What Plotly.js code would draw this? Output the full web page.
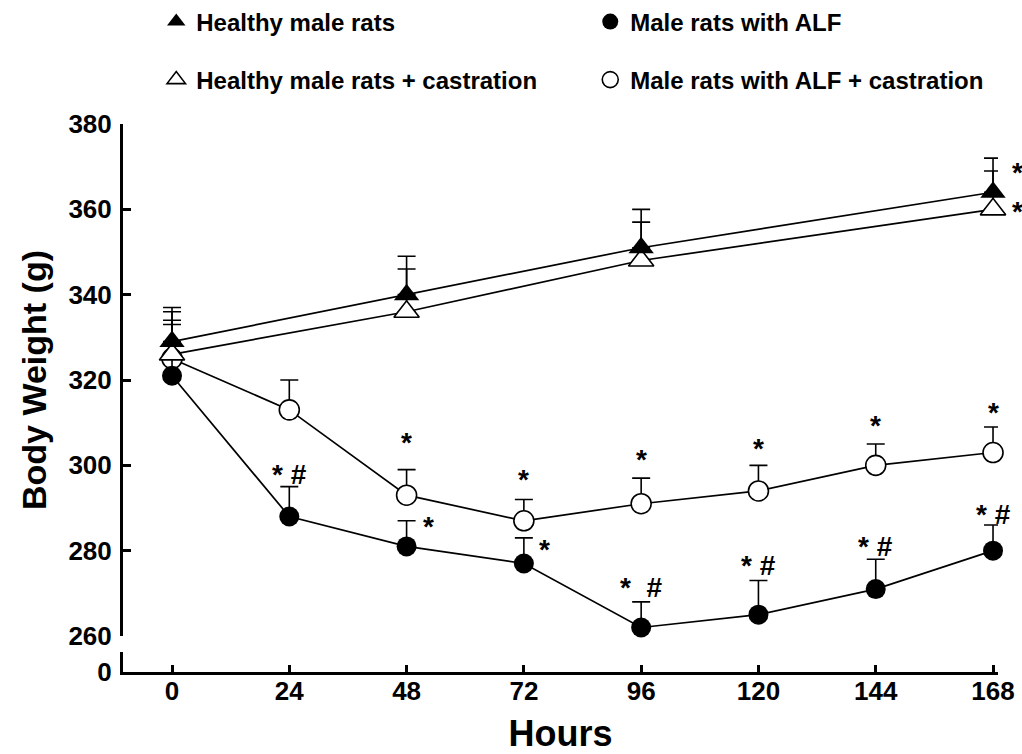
<!DOCTYPE html>
<html><head><meta charset="utf-8">
<script src="https://cdn.plot.ly/plotly-3.0.1.min.js"></script>
<style>html,body{margin:0;padding:0;background:#fff}#chart{width:1022px;height:754px}</style>
</head><body><div id="chart"></div>
<script>
// ---- data ----
const hoursAll = [0, 24, 48, 72, 96, 120, 144, 168];
const hoursHealthy = [0, 48, 96, 168];
const healthy = [329, 340, 351, 364];
const healthyErr = [8, 9, 9, 8];
const healthyCast = [326, 336, 348, 360];
const healthyCastErr = [10, 10, 9, 9];
const alf = [321, 288, 281, 277, 262, 265, 271, 280];
const alfErr = [12, 7, 6, 6, 6, 8, 7, 6];
const alfCast = [325, 313, 293, 287, 291, 294, 300, 303];
const alfCastErr = [9, 7, 6, 5, 6, 6, 5, 6];
const seriesNames = ['Healthy male rats', 'Healthy male rats + castration', 'Male rats with ALF', 'Male rats with ALF + castration'];
const xTicks = [0, 24, 48, 72, 96, 120, 144, 168];
const yTicks = [260, 280, 300, 320, 340, 360, 380];
// significance marks (hour, value, text, pixel offset to the right)
const markHours = [48, 72, 96, 120, 144, 168, 24, 48, 72, 96, 120, 144, 168, 168, 168];
const markY = [306.4, 297.7, 302.2, 304.8, 310.2, 313.4, 298.7, 286.7, 281.1, 272.2, 277.4, 282.0, 289.3, 369.5, 360.5];
const markText = ['*', '*', '*', '*', '*', '*', '* #', '*', '*', '*\u00a0\u00a0#', '* #', '* #', '* #', '*', '*'];
const markDx = [0, 0, 0, 0, 0, 0, 0, 22, 21, 0, 0, 0, 0, 24, 24];

const FONT = 'Liberation Sans, Arial, Helvetica, sans-serif';
const BLACK = '#000';

function series(x, y, err, symbol, filled) {
  return {
    x: x, y: y, type: 'scatter', mode: 'lines+markers', showlegend: false, hoverinfo: 'x+y',
    line: {color: BLACK, width: 1.7},
    marker: {symbol: symbol, size: symbol.indexOf('triangle') === 0 ? 22 : 20,
             color: filled ? BLACK : '#fff', line: {color: BLACK, width: filled ? 0 : 1.6}},
    error_y: {type: 'data', array: err, arrayminus: err.map(() => 0), symmetric: false,
              color: BLACK, thickness: 1.6, width: 9},
    cliponaxis: false
  };
}
function legendItem(name, symbol, filled, legendId) {
  return {x: [null], y: [null], type: 'scatter', mode: 'markers', name: name, legend: legendId,
    marker: {symbol: symbol, size: 20, color: filled ? BLACK : '#fff', line: {color: BLACK, width: filled ? 0 : 1.6}}};
}

const data = [
  series(hoursAll, alfCast, alfCastErr, 'circle', false),
  series(hoursAll, alf, alfErr, 'circle', true),
  series(hoursHealthy, healthyCast, healthyCastErr, 'triangle-up', false),
  series(hoursHealthy, healthy, healthyErr, 'triangle-up', true),
  {x: [null], y: [null], xaxis: 'x', yaxis: 'y2', type: 'scatter', mode: 'markers', showlegend: false, hoverinfo: 'skip'},
  legendItem(seriesNames[0], 'triangle-up', true, 'legend'),
  legendItem(seriesNames[2], 'circle', true, 'legend'),
  legendItem(seriesNames[1], 'triangle-up', false, 'legend2'),
  legendItem(seriesNames[3], 'circle', false, 'legend2')
];

const annotations = markHours.map((h, i) => ({
  x: h, y: markY[i], xref: 'x', yref: 'y', text: markText[i], showarrow: false,
  xanchor: 'center', yanchor: 'middle', xshift: markDx[i], yshift: -4,
  font: {family: FONT, size: 28, weight: 'bold', color: BLACK}
}));

const tickFont = {family: FONT, size: 26, weight: 'bold', color: BLACK};
const legendBase = {orientation: 'h', xanchor: 'left', yanchor: 'middle', x: 0.038,
  entrywidth: 389, entrywidthmode: 'pixels', bgcolor: 'rgba(0,0,0,0)',
  font: {family: FONT, size: 24, weight: 'bold', color: BLACK}, itemclick: false, itemdoubleclick: false};

const H = 548;
const layout = {
  width: 1022, height: 754,
  margin: {l: 123, r: 24, t: 124, b: 82, autoexpand: false},
  paper_bgcolor: '#fff', plot_bgcolor: '#fff',
  font: {family: FONT, color: BLACK},
  showlegend: true,
  legend: Object.assign({}, legendBase, {y: (672 - 22) / H}),
  legend2: Object.assign({}, legendBase, {y: (672 - 80) / H}),
  xaxis: {
    anchor: 'y2', range: [-10.03, 169.02], tickvals: xTicks, ticktext: xTicks.map(String),
    ticks: 'inside', ticklen: 7, tickwidth: 3, tickcolor: BLACK,
    showline: true, linewidth: 3, linecolor: BLACK, showgrid: false, zeroline: false,
    tickfont: tickFont, ticklabelstandoff: -6,
    title: {text: 'Hours', font: {family: FONT, size: 36, weight: 'bold', color: BLACK}, standoff: 16}
  },
  yaxis: {
    domain: [(672 - 636) / H, 1], anchor: 'x', range: [260, 380], tickvals: yTicks, ticktext: yTicks.map(String),
    ticks: 'inside', ticklen: 8, tickwidth: 3, tickcolor: BLACK,
    showline: true, linewidth: 3, linecolor: BLACK, showgrid: false, zeroline: false,
    tickfont: tickFont, ticklabelstandoff: 3,
    title: {text: 'Body Weight (g)', font: {family: FONT, size: 34, weight: 'bold', color: BLACK}, standoff: 12}
  },
  yaxis2: {
    domain: [0, (672 - 652) / H], anchor: 'x', range: [0, 1], tickvals: [0, 1], ticktext: ['0', ''],
    ticks: 'inside', ticklen: 8, tickwidth: 3, tickcolor: BLACK,
    showline: true, linewidth: 3, linecolor: BLACK, showgrid: false, zeroline: false,
    tickfont: tickFont, ticklabelstandoff: 3
  },
  annotations: annotations
};

Plotly.newPlot('chart', data, layout, {displayModeBar: false, staticPlot: true});
</script>
</body></html>
